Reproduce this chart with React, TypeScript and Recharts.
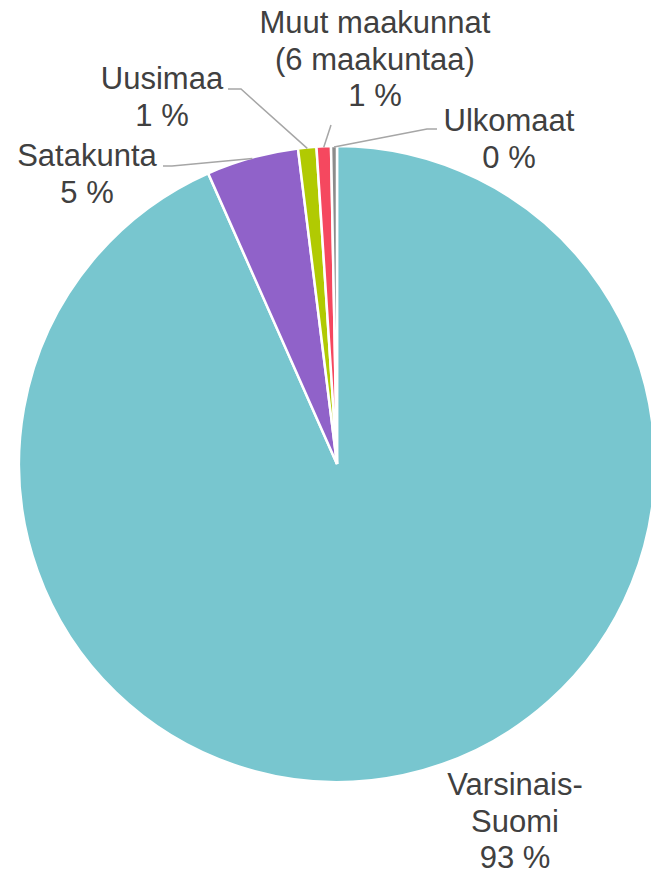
import React from "react";
import { PieChart, Pie, Cell } from "recharts";

const categories = [
  "Varsinais-Suomi",
  "Satakunta",
  "Uusimaa",
  "Muut maakunnat (6 maakuntaa)",
  "Ulkomaat",
];
const shares = [93.36, 4.68, 0.93, 0.73, 0.3];
const labelNameLines = [
  ["Varsinais-", "Suomi"],
  ["Satakunta"],
  ["Uusimaa"],
  ["Muut maakunnat", "(6 maakuntaa)"],
  ["Ulkomaat"],
];
const colors = ["#78C6CF", "#9062C9", "#B1CA02", "#F5485F", "#8C8C8C"];

// label placement (layout, not data)
const labelLayout = [
  { x: 515, y: 795, leader: null },
  { x: 87, y: 166, leader: [[163, 166], [172, 166]] },
  { x: 162, y: 89, leader: [[228, 89], [241, 89]] },
  { x: 375, y: 33, leader: [[331, 125]] },
  { x: 509, y: 131, leader: [[437, 129], [427, 129]] },
];

const data = categories.map((name, i) => ({ name, value: shares[i] }));

const RAD = Math.PI / 180;
const LINE_H = 36.5;

const renderLabel = (props: any) => {
  const { cx, cy, midAngle, outerRadius, index, percent } = props;
  const layout = labelLayout[index];
  const lines = [...labelNameLines[index], `${Math.round(percent * 100)} %`];
  let leader = null;
  if (layout.leader) {
    const ex = cx + (outerRadius - 1) * Math.cos(-midAngle * RAD);
    const ey = cy + (outerRadius - 1) * Math.sin(-midAngle * RAD);
    const pts = [...layout.leader, [ex, ey]].map((p) => p.join(",")).join(" ");
    leader = <polyline points={pts} fill="none" stroke="#A6A6A6" strokeWidth={1.5} />;
  }
  return (
    <g key={`lbl-${index}`}>
      {leader}
      <text
        x={layout.x}
        y={layout.y}
        textAnchor="middle"
        fill="#404040"
        fontSize={31}
        fontFamily="'Liberation Sans', Arial, sans-serif"
      >
        {lines.map((l, i) => (
          <tspan key={i} x={layout.x} y={layout.y + i * LINE_H}>
            {l}
          </tspan>
        ))}
      </text>
    </g>
  );
};

export default function App() {
  return (
    <div style={{ position: "absolute", left: 0, top: 0, background: "#fff" }}>
      <PieChart width={651} height={875} margin={{ top: 0, right: 0, bottom: 0, left: 0 }}>
        <Pie
          data={data}
          dataKey="value"
          nameKey="name"
          cx={337}
          cy={464}
          outerRadius={318}
          startAngle={90}
          endAngle={-270}
          stroke="#FFFFFF"
          strokeWidth={2.5}
          isAnimationActive={false}
          label={renderLabel}
          labelLine={false}
        >
          {data.map((d, i) => (
            <Cell key={d.name} fill={colors[i]} />
          ))}
        </Pie>
      </PieChart>
    </div>
  );
}
